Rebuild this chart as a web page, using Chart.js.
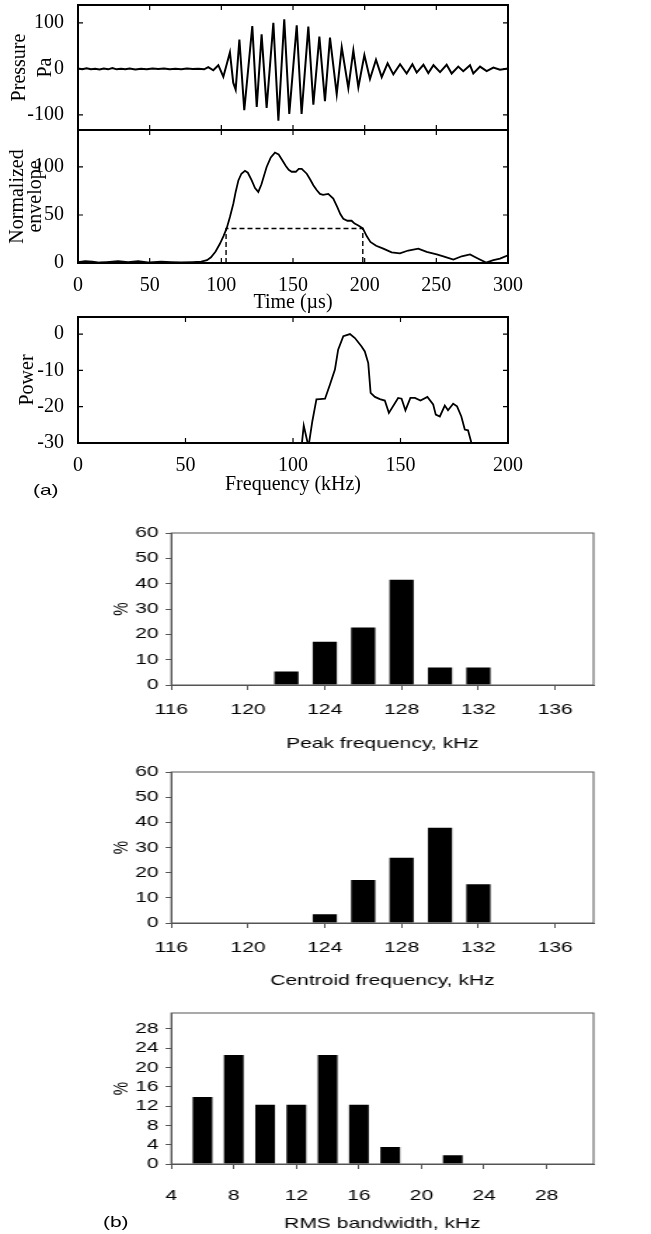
<!DOCTYPE html>
<html>
<head>
<meta charset="utf-8">
<title>Pulse and spectral statistics</title>
<script src="https://cdn.jsdelivr.net/npm/chart.js@4.4.1/dist/chart.umd.min.js"></script>
<style>
  html, body { margin: 0; padding: 0; background: #fff; }
  #page { position: relative; width: 651px; height: 1234px; overflow: hidden; }
  canvas { position: absolute; }
  /* part (b) of the figure is horizontally stretched in the source */
  #partB { position: absolute; left: 0; top: 0; width: 465px; height: 1234px; transform: scaleX(1.4); transform-origin: 0 0; }
  .tag { position: absolute; font: 15px "Liberation Sans", Arial, sans-serif; line-height: 18px; color: #000; }
</style>
</head>
<body>
<div id="page">
  <canvas id="pressureChart"></canvas>
  <canvas id="envelopeChart"></canvas>
  <canvas id="powerChart"></canvas>
  <div id="partB">
    <canvas id="peakChart"></canvas>
    <canvas id="centroidChart"></canvas>
    <canvas id="rmsChart"></canvas>
    <div class="tag" style="left:23.5px;top:481px">(a)</div>
    <div class="tag" style="left:73.5px;top:1213px">(b)</div>
  </div>
</div>
<script>
// ---- (a) received pulse, its envelope and its spectrum ----
const timeTicks = [0, 50, 100, 150, 200, 250, 300];
const pressureTicks = [-100, 0, 100];
// peaks and troughs of the pressure trace (µs, Pa)
const pressureTime = [0, 3, 6, 9, 12, 15, 18, 21, 24, 27, 30, 33, 36, 40, 44, 48, 52, 56, 60, 64, 68, 72, 76, 80, 84, 88,
  90.9, 94.4, 97.9, 101.4, 106, 108.3, 110, 112.6, 116, 121.6, 124.7, 128.1, 131.6, 136.3, 139.8, 143.9, 147.4,
  152.6, 156, 160.7, 164.2, 168.4, 172.3, 175.8, 180.5, 184, 188.6, 192.1, 195.6, 199.8, 203.7, 207.9, 211.9,
  216, 220, 224.7, 229.3, 233.3, 236.3, 241, 244.4, 248, 252.6, 257.2, 260.7, 265.3, 268.8, 273.5, 275.8,
  280.5, 285.1, 289.8, 294.4, 300];
const pressurePa = [1, -1, 1.5, -1, 0, -1.5, 1, -1, 2, -1, 0.5, -1, 1, -1.5, 0.5, -1, 1, -0.5, 1, -1, 0.5, -1, 1, -0.5, 0.5, -1,
  4, -3, 8, -17, 36, -30, -45, 64, -90, 93, -83, 75, -85, 100, -113, 108, -98,
  95, -98, 92, -78, 70, -70, 68, -55, 47, -42, 40, -40, 30, -22, 20, -18,
  12, -12, 10, -10, 10, -8, 9, -9, 8, -7, 9, -10, 5, -5, 8, -10,
  5, -5, 3, -2, 1];

const envelopeTicks = [0, 50, 100];
const envelopeTime = [0, 5, 10, 15, 20, 28, 35, 42, 50, 58, 65, 72, 80, 86, 90, 92.8, 96, 99, 101.5, 103.7, 106, 108.4,
  110, 111.9, 114, 116.5, 118.5, 121.2, 123.5, 125.8, 128, 131.6, 134.5, 137.4, 140, 142.1, 145, 147, 149.1, 152,
  154, 156.1, 159.6, 162, 164.2, 166.5, 168.8, 171, 174.6, 178.1, 181, 183, 185.1, 188, 190.9, 193, 195.6, 198.7,
  201.4, 204, 208, 213, 218.8, 224.6, 230.4, 237.4, 243.3, 250.3, 254.9, 261.9, 267.7, 273.5, 279.3, 284.7, 289.8,
  294.4, 300];
const envelopeLevel = [1, 2, 1.5, 0.5, 1, 2, 1, 2, 0.5, 1.5, 1, 0.5, 1, 1.5, 3, 6, 12, 20, 28, 36, 48, 62,
  74, 86, 93, 96, 94, 86, 78, 74, 82, 100, 110, 115, 113, 108, 101, 97, 95, 95,
  98, 98, 93, 87, 81, 76, 72, 71, 72, 67, 58, 51, 46, 44, 44, 41, 39, 36,
  28, 22, 18, 15, 11, 10, 13, 15, 11.5, 9, 7, 3.5, 7, 9, 4.5, 0.5, 3,
  4.5, 8];
// dashed marker of the pulse duration
const durationTime = [103.3, 103.3, 198.7, 198.7];
const durationLevel = [0, 36, 36, 0];

const freqTicks = [0, 50, 100, 150, 200];
const powerTicks = [-30, -20, -10, 0];
const spectrumFreq = [103.8, 105, 107.2, 109, 110.9, 112.5, 114.9, 117.2, 119.5, 121, 123.4, 126.5, 128.8, 131.9,
  133.4, 135, 136.1, 138.1, 140.4, 142.7, 144.6, 148.9, 150.5, 152.3, 154.6, 156.7, 159.3, 162.5, 165.2, 166.4,
  168.3, 170.6, 172.1, 174.5, 176.3, 178.3, 179.9, 181.4, 183, 183.5];
const spectrumPower = [-32, -25.2, -31, -24, -18, -17.9, -17.8, -13.9, -9.8, -4.3, -0.6, 0, -1.1, -3.4,
  -4.8, -8, -16.2, -17.3, -17.9, -18.3, -21.7, -17.6, -17.8, -21, -17.6, -17.6, -18.3, -17.3, -19.4, -22.2,
  -22.7, -19.7, -21, -19.2, -19.9, -22.7, -26.3, -26.5, -30, -32];

// ---- (b) histograms over all recorded pulses ----
const peakFreqBins = [122, 124, 126, 128, 130, 132];
const peakFreqPct = [5.3, 17.1, 22.7, 41.5, 6.9, 6.9];
const centroidBins = [124, 126, 128, 130, 132];
const centroidPct = [3.5, 17.1, 25.9, 37.8, 15.4];
const rmsBins = [6, 8, 10, 12, 14, 16, 18, 22];
const rmsPct = [13.9, 22.6, 12.3, 12.3, 22.6, 12.3, 3.5, 1.8];
const khzTicks = [116, 120, 124, 128, 132, 136];
const pctTicks = [0, 10, 20, 30, 40, 50, 60];
const rmsTicks = [4, 8, 12, 16, 20, 24, 28];
const rmsPctTicks = [0, 4, 8, 12, 16, 20, 24, 28];

const SERIF = '"Liberation Serif", "Times New Roman", serif';
const SANS = '"Liberation Sans", Arial, sans-serif';
const pts = (xs, ys) => xs.map((x, i) => ({ x, y: ys[i] }));

function place(id, left, top, width, height) {
  const cv = document.getElementById(id);
  cv.width = width;
  cv.height = height;
  Object.assign(cv.style, { left: left + 'px', top: top + 'px', width: width + 'px', height: height + 'px' });
  return cv;
}

// fixed axis sizes, and no extra padding asked by the labels, so the plot area lands where we want it
function fixSize(prop, size) {
  return s => {
    s[prop] = size;
    s.paddingTop = s.paddingBottom = s.paddingLeft = s.paddingRight = 0;
  };
}

// MATLAB look: heavy box with ticks pointing inwards on every side
const matlabFrame = {
  id: 'matlabFrame',
  afterDraw(chart) {
    const { ctx, chartArea: a, scales: { x, y } } = chart;
    ctx.save();
    ctx.strokeStyle = '#000';
    ctx.lineWidth = 1.2;
    ctx.beginPath();
    x.ticks.forEach(t => {
      const px = x.getPixelForValue(t.value);
      ctx.moveTo(px, a.top); ctx.lineTo(px, a.top + 5);
      ctx.moveTo(px, a.bottom); ctx.lineTo(px, a.bottom - 5);
    });
    y.ticks.forEach(t => {
      const py = y.getPixelForValue(t.value);
      ctx.moveTo(a.left, py); ctx.lineTo(a.left + 5, py);
      ctx.moveTo(a.right, py); ctx.lineTo(a.right - 5, py);
    });
    ctx.stroke();
    ctx.lineWidth = 2;
    ctx.strokeRect(a.left, a.top, a.right - a.left, a.bottom - a.top);
    ctx.restore();
  }
};

// Excel look: thin grey frame round the plot area
const excelFrame = {
  id: 'excelFrame',
  afterDraw(chart) {
    const { ctx, chartArea: a } = chart;
    ctx.save();
    ctx.strokeStyle = '#555';
    ctx.lineWidth = 1;
    ctx.strokeRect(a.left, a.top, a.right - a.left, a.bottom - a.top);
    ctx.restore();
  }
};

function serifFont(lineHeight) {
  return { family: SERIF, size: 20, lineHeight: lineHeight || 1.2 };
}

function matlabPanel(id, p) {
  const padTop = 10, padRight = 30;
  const top = p.area.top - padTop;
  const cv = place(id, 0, top, p.area.right + padRight, p.area.bottom - top + p.xHeight);
  return new Chart(cv, {
    type: 'line',
    data: { datasets: p.datasets },
    options: {
      responsive: false,
      animation: false,
      events: [],
      layout: { autoPadding: false, padding: { top: padTop, right: padRight, left: 0, bottom: 0 } },
      plugins: { legend: { display: false }, tooltip: { enabled: false } },
      elements: { point: { radius: 0 }, line: { tension: 0 } },
      scales: {
        x: {
          type: 'linear', min: p.xMin, max: p.xMax,
          afterBuildTicks: s => { s.ticks = p.xTicks.map(v => ({ value: v })); },
          afterFit: fixSize('height', p.xHeight),
          grid: { display: false },
          border: { display: false },
          ticks: { display: p.xLabels, padding: 3, color: '#000', font: serifFont(), maxRotation: 0, autoSkip: false },
          title: { display: !!p.xTitle, text: p.xTitle || '', color: '#000', font: serifFont(), padding: 0 }
        },
        y: {
          type: 'linear', min: p.yMin, max: p.yMax,
          afterBuildTicks: s => { s.ticks = p.yTicks.map(v => ({ value: v })); },
          afterFit: fixSize('width', p.area.left),
          grid: { display: false },
          border: { display: false },
          ticks: { padding: 6, color: '#000', font: serifFont() },
          title: { display: true, text: p.yTitle, color: '#000', font: serifFont(p.yLineHeight),
                   padding: { top: p.yTitlePad, bottom: 0 } }
        }
      }
    },
    plugins: [matlabFrame]
  });
}

function histogram(id, p) {
  const left = 60, padTop = 12, padRight = 15;
  const top = p.area.top - padTop;
  const cv = place(id, left, top, p.area.right - left + padRight, p.area.bottom - top + p.xHeight);
  const sansFont = { family: SANS, size: 15, lineHeight: 1.2 };
  return new Chart(cv, {
    type: 'bar',
    data: {
      datasets: [{
        data: pts(p.bins, p.pct),
        backgroundColor: '#000',
        borderWidth: 0,
        barPercentage: 0.63,
        categoryPercentage: 1
      }]
    },
    options: {
      responsive: false,
      animation: false,
      events: [],
      layout: { autoPadding: false, padding: { top: padTop, right: padRight, left: 0, bottom: 0 } },
      plugins: { legend: { display: false }, tooltip: { enabled: false } },
      scales: {
        x: {
          type: 'linear', offset: false, min: p.xMin, max: p.xMax,
          afterBuildTicks: s => { s.ticks = p.xTicks.map(v => ({ value: v })); },
          afterFit: fixSize('height', p.xHeight),
          grid: { offset: false, drawOnChartArea: false, drawTicks: true, tickLength: 5, color: '#555' },
          border: { display: true, color: '#555', width: 1 },
          ticks: { padding: p.xPad, color: '#000', font: sansFont, maxRotation: 0, autoSkip: false },
          title: { display: true, text: p.xTitle, color: '#000', font: sansFont, padding: 0 }
        },
        y: {
          type: 'linear', min: 0, max: p.yMax,
          afterBuildTicks: s => { s.ticks = p.yTicks.map(v => ({ value: v })); },
          afterFit: fixSize('width', p.area.left - left),
          grid: { drawOnChartArea: false, drawTicks: true, tickLength: 4, color: '#555' },
          border: { display: true, color: '#555', width: 1 },
          ticks: { padding: 5, color: '#000', font: sansFont },
          title: { display: true, text: '%', color: '#000', font: sansFont, padding: { top: 17.4, bottom: 0 } }
        }
      }
    },
    plugins: [excelFrame]
  });
}

const traceStyle = { borderColor: '#000', fill: false, clip: 0 };

matlabPanel('pressureChart', {
  area: { left: 78, top: 5, right: 508, bottom: 130 },
  xHeight: 4, xMin: 0, xMax: 300, xTicks: timeTicks, xLabels: false,
  yMin: -133, yMax: 139, yTicks: pressureTicks,
  yTitle: ['Pressure', 'Pa'], yLineHeight: 1.3, yTitlePad: 7,
  datasets: [{ ...traceStyle, data: pts(pressureTime, pressurePa), borderWidth: 2 }]
});

matlabPanel('envelopeChart', {
  area: { left: 78, top: 130, right: 508, bottom: 263 },
  xHeight: 52, xMin: 0, xMax: 300, xTicks: timeTicks, xLabels: true, xTitle: 'Time (\u00b5s)',
  yMin: 0, yMax: 138.5, yTicks: envelopeTicks,
  yTitle: ['Normalized', 'envelope'], yLineHeight: 0.9, yTitlePad: 9,
  datasets: [
    { ...traceStyle, data: pts(envelopeTime, envelopeLevel), borderWidth: 1.8 },
    { ...traceStyle, data: pts(durationTime, durationLevel), borderWidth: 1.4, borderDash: [5, 3] }
  ]
});

matlabPanel('powerChart', {
  area: { left: 78, top: 317, right: 508, bottom: 443 },
  xHeight: 54, xMin: 0, xMax: 200, xTicks: freqTicks, xLabels: true, xTitle: 'Frequency (kHz)',
  yMin: -30, yMax: 4.7, yTicks: powerTicks,
  yTitle: 'Power', yTitlePad: 16,
  datasets: [{ ...traceStyle, data: pts(spectrumFreq, spectrumPower), borderWidth: 1.8 }]
});

// part (b) coordinates are in the unstretched frame (page x / 1.4)
histogram('peakChart', {
  area: { left: 122.14, top: 533, right: 423.57, bottom: 685 },
  xHeight: 68, xPad: 11, xMin: 116, xMax: 138, xTicks: khzTicks, xTitle: 'Peak frequency, kHz',
  yMax: 60, yTicks: pctTicks, bins: peakFreqBins, pct: peakFreqPct
});

histogram('centroidChart', {
  area: { left: 122.14, top: 772, right: 423.57, bottom: 923 },
  xHeight: 67, xPad: 11, xMin: 116, xMax: 138, xTicks: khzTicks, xTitle: 'Centroid frequency, kHz',
  yMax: 60, yTicks: pctTicks, bins: centroidBins, pct: centroidPct
});

histogram('rmsChart', {
  area: { left: 122.14, top: 1013, right: 423.57, bottom: 1164 },
  xHeight: 69, xPad: 18, xMin: 4, xMax: 31, xTicks: rmsTicks, xTitle: 'RMS bandwidth, kHz',
  yMax: 31.3, yTicks: rmsPctTicks, bins: rmsBins, pct: rmsPct
});
</script>
</body>
</html>
